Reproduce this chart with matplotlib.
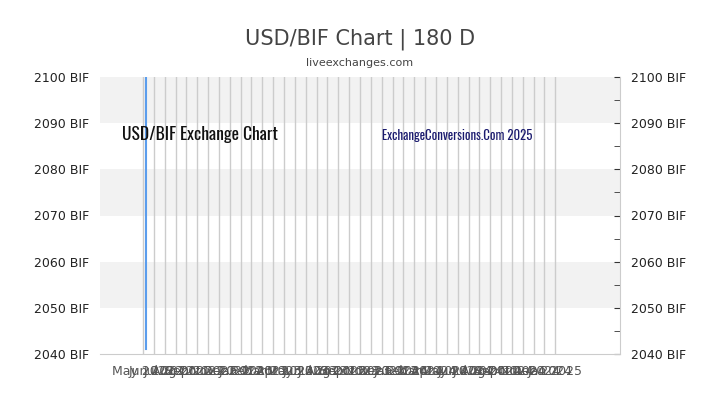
import matplotlib
matplotlib.use("Agg")
import matplotlib.pyplot as plt
from matplotlib import font_manager
import numpy as np

# ---- data ----
y_ticks = [2040, 2050, 2060, 2070, 2080, 2090, 2100]
y_tick_labels = [f"{v} BIF" for v in y_ticks]
band_starts = [2050, 2070, 2090]
grid_positions = list(range(39))
month_labels = ["May 2022", "Jun 2022", "Jul 2022", "Aug 2022", "Sep 2022", "Oct 2022",
                "Nov 2022", "Dec 2022", "Jan 2023", "Feb 2023", "Mar 2023", "Apr 2023",
                "May 2023", "Jun 2023", "Jul 2023", "Aug 2023", "Sep 2023", "Oct 2023",
                "Nov 2023", "Dec 2023", "Jan 2024", "Feb 2024", "Mar 2024", "Apr 2024",
                "May 2024", "Jun 2024", "Jul 2024", "Aug 2024", "Sep 2024", "Oct 2024",
                "Nov 2024", "Dec 2024", "Jan 2025"]
series_x = [0.32, 0.32]
series_y = [2041, 2100]

names = {f.name for f in font_manager.fontManager.ttflist}
cond = None
for cand in ["Oswald", "Roboto Condensed", "Open Sans Condensed", "DejaVu Sans Condensed",
             "Liberation Sans Narrow", "Noto Sans Condensed"]:
    if cand in names:
        cond = cand
        break
cond_stretch = [f for f in font_manager.fontManager.ttflist
                if f.stretch in ("condensed", "semi-condensed", "extra-condensed")]
if cond is None and cond_stretch:
    cond = cond_stretch[0].name

fig = plt.figure(figsize=(7.2, 4.05), dpi=100)
ax = fig.add_axes([100/720, 51/405, 520/720, 277/405])
ax.set_xlim(-3.96, 43.96)
ax.set_ylim(2040, 2100)

for b in band_starts:
    ax.axhspan(b, b + 10, color="#f2f2f2", zorder=0, lw=0)

for g in grid_positions:
    ax.axvline(g, color="#cccccc", lw=1, zorder=1)

ax.plot(series_x, series_y, color="#5b9ded", lw=1.5, zorder=3)

ax.set_yticks(y_ticks)
ax.set_yticklabels(y_tick_labels)
ax.tick_params(axis="y", left=False, right=True, labelleft=True, labelright=True,
               direction="in", length=4, color="#333333", labelsize=9, labelcolor="#222222", pad=8)
ax.set_yticks([2045, 2055, 2065, 2075, 2085, 2095], minor=True)
ax.tick_params(axis="y", which="minor", left=False, right=True, direction="in", length=4, color="#333333")

lab_pos = np.linspace(0, 38, len(month_labels))
ax.set_xticks(lab_pos)
ax.set_xticklabels(month_labels)
ax.tick_params(axis="x", length=0, labelsize=9, labelcolor="#555555", pad=8)

for s in ["left", "top"]:
    ax.spines[s].set_visible(False)
for s in ["right", "bottom"]:
    ax.spines[s].set_color("#cccccc")

fig.text(0.5, 1 - 39/405, "USD/BIF Chart | 180 D", ha="center", va="center",
         fontsize=15, color="#444444")
fig.text(0.5, 1 - 63/405, "liveexchanges.com", ha="center", va="center",
         fontsize=8, color="#444444")

if cond:
    fam = [cond, "DejaVu Sans"]
    s1, s2 = 14, 10
else:
    fam = ["DejaVu Sans"]
    s1, s2 = 10.5, 7.5
wm1 = fig.text(122/720, 1 - 135/405, "USD/BIF Exchange Chart", ha="left", va="center",
               fontsize=s1, fontweight="bold", family=fam, color="#111111", zorder=5)
wm2 = fig.text(382/720, 1 - 136/405, "ExchangeConversions.Com 2025", ha="left", va="center",
               fontsize=s2, family=fam, color="#1a1a6e", zorder=5)

# fit watermark widths to the reference extents
fig.canvas.draw()
r = fig.canvas.get_renderer()
for t, target in [(wm1, 156), (wm2, 150)]:
    w = t.get_window_extent(r).width
    t.set_fontsize(t.get_fontsize() * target / w)

fig.savefig("out.png", dpi=100)
